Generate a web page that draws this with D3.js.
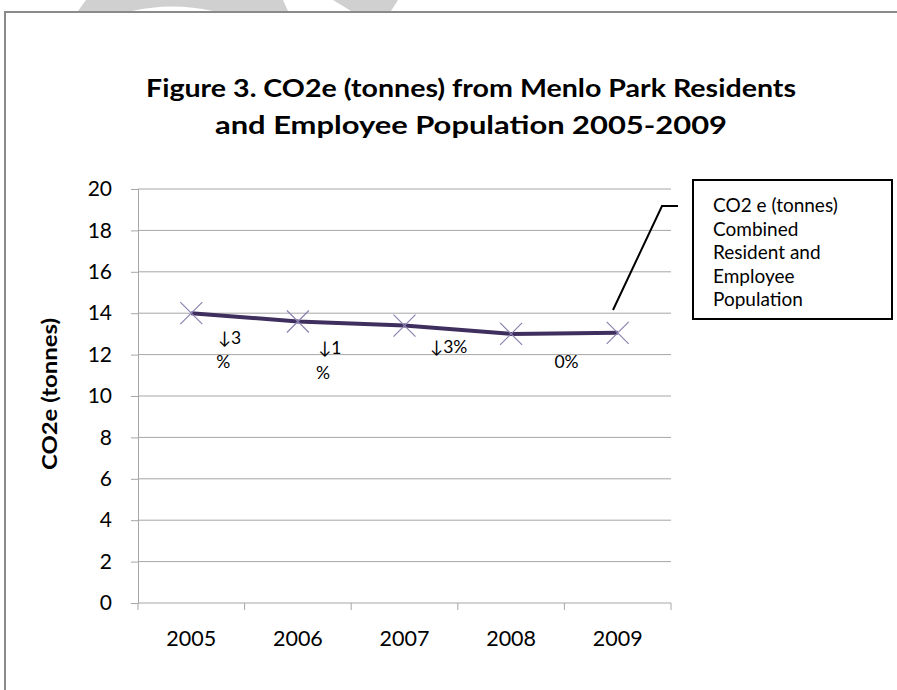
<!DOCTYPE html>
<html lang="en">
<head>
<meta charset="utf-8" />
<title>CO2e Menlo Park</title>
<script src="https://cdn.jsdelivr.net/npm/d3@7"></script>
<style>
  body { margin: 0; background: #fff; }
  text { font-family: Lato, "Open Sans", sans-serif; fill: #000; }
</style>
</head>
<body>
<script>
// data
var years = ["2005", "2006", "2007", "2008", "2009"];
var co2 = [14.0, 13.6, 13.4, 13.0, 13.05];
var yTicks = [0, 2, 4, 6, 8, 10, 12, 14, 16, 18, 20];
// percent-change notes: text, category position (fractional), value position
var noteText = ["\u21933", "%", "\u21931", "%", "\u21933%", "0%"];
var noteAt = [0.25, 0.30, 1.19, 1.235, 2.24, 3.52];
var noteVal = [12.53, 11.33, 12.05, 10.84, 12.1, 11.33];
var noteAnchor = ["start", "middle", "start", "middle", "start", "middle"];
var legendLines = ["CO2 e (tonnes)", "Combined", "Resident and", "Employee", "Population"];

var w = 897, h = 690;
var pLeft = 138, pRight = 671, pTop = 189, pBottom = 603;

var svg = d3.select("body").append("svg")
  .attr("width", w)
  .attr("height", h);

// faint watermark shapes at the top edge
svg.append("path")
  .attr("d", "M78,11 L86,0 L283,0 L288,11 L213,11 Q172,2 132,11 Z")
  .attr("fill", "#d0d0d0");
svg.append("path")
  .attr("d", "M333,0 L398,0 L391,11 L351,11 Z")
  .attr("fill", "#d0d0d0");

// chart frame (only top and left visible)
svg.append("path")
  .attr("d", "M5,690 L5,12 L897,12")
  .attr("fill", "none")
  .attr("stroke", "#8a8a8a")
  .attr("stroke-width", 2);

// title
var title = svg.append("text")
  .attr("text-anchor", "middle")
  .attr("font-weight", "bold")
  .attr("font-size", 25);
title.append("tspan").attr("x", 471).attr("y", 97)
  .attr("textLength", 650).attr("lengthAdjust", "spacingAndGlyphs")
  .text("Figure 3. CO2e (tonnes) from Menlo Park Residents");
title.append("tspan").attr("x", 471).attr("y", 134)
  .attr("textLength", 512).attr("lengthAdjust", "spacingAndGlyphs")
  .text("and Employee Population 2005-2009");

var xBand = d3.scaleBand().domain(years).range([pLeft, pRight]);
var step = xBand.step();
function xPos(i) { return pLeft + step * (i + 0.5); }

var yScale = d3.scaleLinear().domain([0, 20]).range([pBottom, pTop]);

// gridlines
svg.append("g")
  .selectAll("line")
  .data(yTicks.filter(function(d) { return d > 0; }))
  .enter()
  .append("line")
  .attr("x1", pLeft)
  .attr("x2", pRight)
  .attr("y1", function(d) { return yScale(d); })
  .attr("y2", function(d) { return yScale(d); })
  .attr("stroke", "#a6a6a6")
  .attr("stroke-width", 1);

// Y axis
var yAxis = d3.axisLeft(yScale).tickValues(yTicks).tickSize(7).tickPadding(19);
var gy = svg.append("g")
  .attr("class", "y axis")
  .attr("transform", "translate(" + pLeft + ",0)")
  .call(yAxis);
gy.select(".domain").attr("stroke", "#a6a6a6");
gy.selectAll(".tick line").attr("stroke", "#a6a6a6");
gy.selectAll("text")
  .attr("font-size", 21)
  .attr("font-family", "Lato, sans-serif")
  .attr("fill", "#111");

// X axis with ticks between categories
var xAxis = d3.axisBottom(xBand).tickSize(0).tickPadding(28);
var gx = svg.append("g")
  .attr("class", "x axis")
  .attr("transform", "translate(0," + pBottom + ")")
  .call(xAxis);
gx.select(".domain").remove();
gx.selectAll("text")
  .attr("font-size", 21.5)
  .attr("font-family", "Lato, sans-serif")
  .attr("fill", "#111");
gx.append("line")
  .attr("x1", pLeft).attr("x2", pRight)
  .attr("stroke", "#a6a6a6");
gx.selectAll(".sep")
  .data(d3.range(years.length + 1))
  .enter()
  .append("line")
  .attr("class", "sep")
  .attr("x1", function(d) { return pLeft + d * step; })
  .attr("x2", function(d) { return pLeft + d * step; })
  .attr("y1", 0)
  .attr("y2", 7)
  .attr("stroke", "#a6a6a6");

// Y axis title
svg.append("text")
  .attr("transform", "translate(57," + 394 + ") rotate(-90)")
  .attr("text-anchor", "middle")
  .attr("font-weight", "bold")
  .attr("font-size", 21)
  .attr("textLength", 152)
  .attr("lengthAdjust", "spacingAndGlyphs")
  .text("CO2e (tonnes)");

// line
var line = d3.line()
  .x(function(d, i) { return xPos(i); })
  .y(function(d) { return yScale(d); });
svg.append("path")
  .datum(co2)
  .attr("d", line)
  .attr("fill", "none")
  .attr("stroke", "#3f2f5f")
  .attr("stroke-width", 4);

// X markers
var m = 11;
svg.append("g")
  .selectAll("path")
  .data(co2)
  .enter()
  .append("path")
  .attr("d", function(d, i) {
    var x = xPos(i), y = yScale(d);
    return "M" + (x - m) + "," + (y - m) + "L" + (x + m) + "," + (y + m) +
      "M" + (x - m) + "," + (y + m) + "L" + (x + m) + "," + (y - m);
  })
  .attr("stroke", "#8c82b0")
  .attr("stroke-width", 1.2)
  .attr("fill", "none");

// percent-change notes
svg.append("g")
  .selectAll("text")
  .data(noteText)
  .enter()
  .append("text")
  .attr("x", function(d, i) { return xPos(noteAt[i]); })
  .attr("y", function(d, i) { return yScale(noteVal[i]); })
  .attr("text-anchor", function(d, i) { return noteAnchor[i]; })
  .attr("font-size", 17.5)
  .text(function(d) { return d; });

// legend callout
svg.append("path")
  .attr("d", "M613,310 L662,206 L678,206")
  .attr("fill", "none")
  .attr("stroke", "#000")
  .attr("stroke-width", 2);
svg.append("rect")
  .attr("x", 693)
  .attr("y", 180)
  .attr("width", 199)
  .attr("height", 139)
  .attr("fill", "#fff")
  .attr("stroke", "#000")
  .attr("stroke-width", 2);
svg.append("g")
  .selectAll("text")
  .data(legendLines)
  .enter()
  .append("text")
  .attr("x", 713)
  .attr("y", function(d, i) { return 212 + i * 23.5; })
  .attr("font-size", 19)
  .text(function(d) { return d; });
</script>
</body>
</html>
